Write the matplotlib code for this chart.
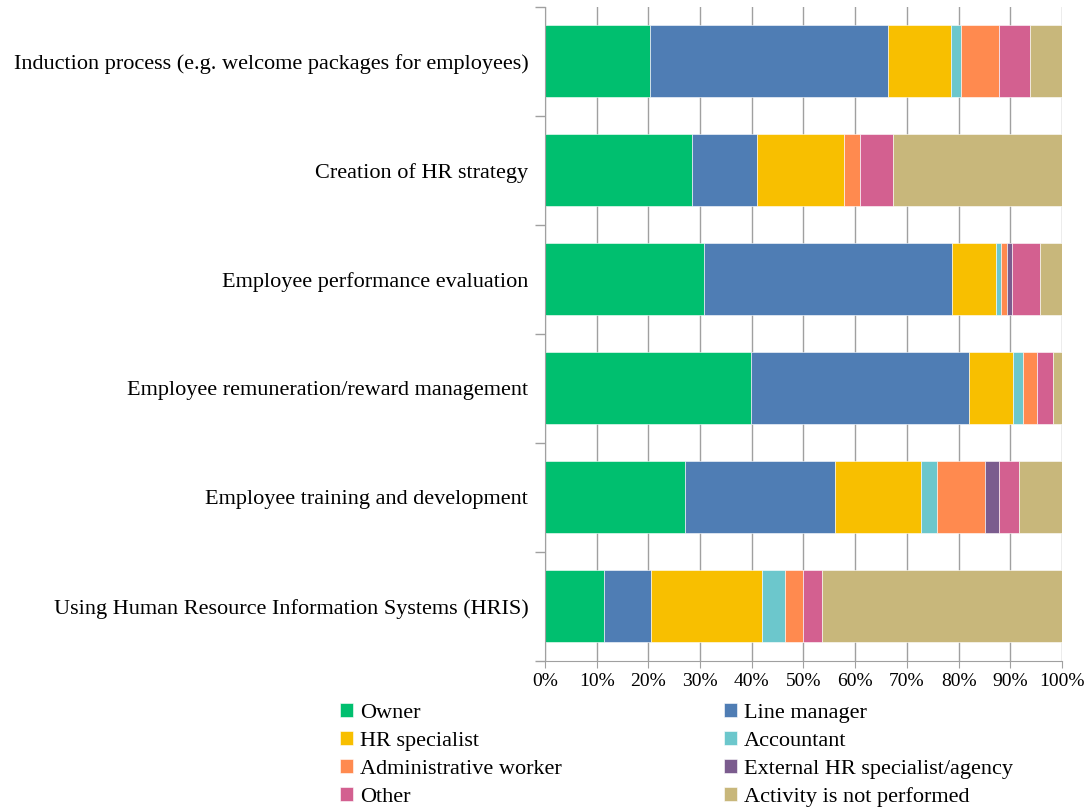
import numpy as np
import matplotlib.pyplot as plt
from matplotlib.ticker import PercentFormatter

plt.rcParams['font.family'] = ['Liberation Serif', 'DejaVu Serif']

# activities, top to bottom
activities = [
    "Induction process (e.g. welcome packages for employees)",
    "Creation of HR strategy",
    "Employee performance evaluation",
    "Employee remuneration/reward management",
    "Employee training and development",
    "Using Human Resource Information Systems (HRIS)",
]

roles = ["Owner", "Line manager", "HR specialist", "Accountant",
         "Administrative worker", "External HR specialist/agency",
         "Other", "Activity is not performed"]

# shares in % per role (same order as activities)
owner = [20.3, 28.4, 30.8, 39.8, 27.1, 11.4]
line_manager = [46.0, 12.6, 47.9, 42.2, 29.0, 9.1]
hr_specialist = [12.2, 16.9, 8.6, 8.5, 16.7, 21.5]
accountant = [2.0, 0.0, 1.0, 2.0, 3.0, 4.5]
admin_worker = [7.3, 3.1, 1.0, 2.7, 9.3, 3.5]
external_hr = [0.0, 0.0, 1.0, 0.0, 2.7, 0.0]
other = [6.1, 6.3, 5.4, 3.0, 3.8, 3.5]
not_performed = [6.1, 32.7, 4.3, 1.8, 8.4, 46.5]

series = [owner, line_manager, hr_specialist, accountant,
          admin_worker, external_hr, other, not_performed]
colors = ["#00BF6F", "#4F7DB4", "#F8BF00", "#6CC7CC",
          "#FF8A4F", "#7B5C8E", "#D36090", "#C8B77B"]

fig = plt.figure(figsize=(10.9, 8.1), dpi=100)
ax = fig.add_axes([0.5, 0.184, 0.4743, 0.8074])

y = np.arange(len(activities))[::-1]
left = np.zeros(len(activities))
for vals, name, col in zip(series, roles, colors):
    vals = np.array(vals)
    ax.barh(y, vals, left=left, height=0.66, color=col, label=name,
            edgecolor='white', linewidth=0.4, zorder=2)
    left += vals

ax.set_xlim(0, 100)
ax.set_ylim(-0.5, len(activities) - 0.5)
ax.set_xticks(np.arange(0, 101, 10))
ax.xaxis.set_major_formatter(PercentFormatter(decimals=0))
ax.grid(axis='x', color='#A0A0A0', linewidth=1, zorder=0)

ax.set_yticks(y)
ax.set_yticklabels(activities)
ax.set_yticks(np.arange(-0.5, len(activities), 1), minor=True)
ax.tick_params(axis='y', which='major', length=0, pad=12, labelsize=16)
ax.tick_params(axis='y', which='minor', length=7, color='#A0A0A0', width=1)
ax.tick_params(axis='x', length=5, color='#A0A0A0', labelsize=14, pad=4)

for s in ['top', 'right']:
    ax.spines[s].set_visible(False)
for s in ['left', 'bottom']:
    ax.spines[s].set_color('#A0A0A0')

# legend is filled row by row in the reference
handles, labels = ax.get_legend_handles_labels()
order = [0, 2, 4, 6, 1, 3, 5, 7]
fig.legend([handles[i] for i in order], [labels[i] for i in order],
           loc='upper left', bbox_to_anchor=(0.312, 0.132), ncol=2,
           frameon=False, fontsize=16, handlelength=0.6, handleheight=0.6,
           handletextpad=0.3, columnspacing=7.3, labelspacing=0.36,
           borderpad=0, borderaxespad=0)

plt.savefig('out.png', dpi=100)
